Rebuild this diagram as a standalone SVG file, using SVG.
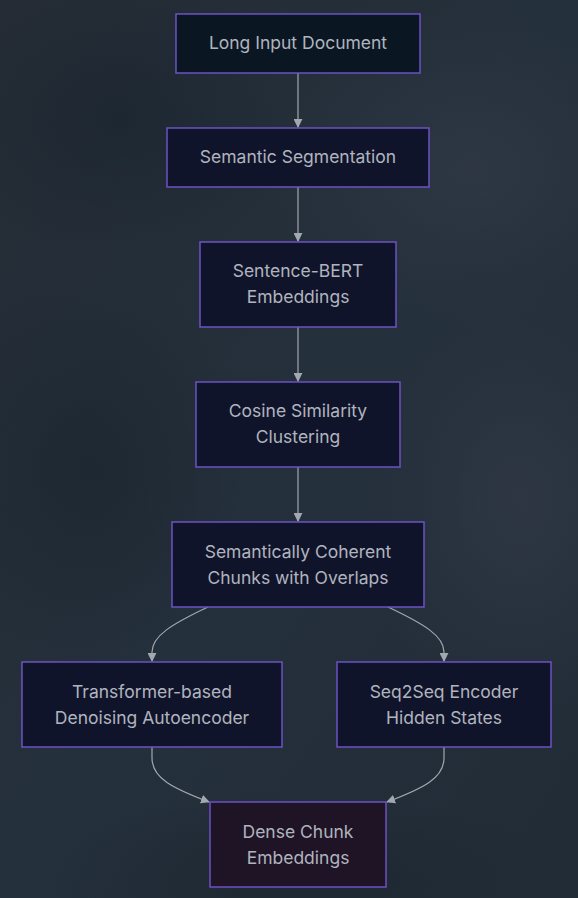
<svg xmlns="http://www.w3.org/2000/svg" width="578" height="898" viewBox="0 0 578 898">
<defs>
<linearGradient id="bg" x1="0" y1="0" x2="1" y2="1">
<stop offset="0" stop-color="#252c35"/>
<stop offset="0.5" stop-color="#24303c"/>
<stop offset="1" stop-color="#222c37"/>
</linearGradient>
<radialGradient id="b1" cx="0.5" cy="0.5" r="0.5">
<stop offset="0" stop-color="#2f3744" stop-opacity="0.9"/>
<stop offset="1" stop-color="#2f3744" stop-opacity="0"/>
</radialGradient>
<radialGradient id="b2" cx="0.5" cy="0.5" r="0.5">
<stop offset="0" stop-color="#1c2630" stop-opacity="0.8"/>
<stop offset="1" stop-color="#1c2630" stop-opacity="0"/>
</radialGradient>
<marker id="arr" viewBox="0 0 10 10" refX="9" refY="5" markerWidth="9" markerHeight="9" markerUnits="userSpaceOnUse" orient="auto">
<path d="M0,0 L10,5 L0,10 z" fill="#a3a7ae"/>
</marker>
<style>
.n{stroke:#6c52c4;stroke-width:1.5;fill:#10142b}
.t{font-family:Inter,"Noto Sans",sans-serif;font-size:17.5px;fill:#b0b4be;text-anchor:middle}
.e{fill:none;stroke:#a3a7ae;stroke-width:1.2}
</style>
</defs>
<rect width="578" height="898" fill="url(#bg)"/>
<ellipse cx="470" cy="170" rx="200" ry="160" fill="url(#b1)"/>
<ellipse cx="120" cy="120" rx="180" ry="140" fill="url(#b2)"/>
<ellipse cx="90" cy="470" rx="160" ry="200" fill="url(#b2)"/>
<ellipse cx="520" cy="500" rx="160" ry="220" fill="url(#b1)"/>
<ellipse cx="300" cy="880" rx="260" ry="90" fill="url(#b2)"/>
<g id="connectors">
<path class="e" d="M298,73 L298,127" marker-end="url(#arr)"/>
<path class="e" d="M298,187 L298,241" marker-end="url(#arr)"/>
<path class="e" d="M298,327 L298,381" marker-end="url(#arr)"/>
<path class="e" d="M298,467 L298,521" marker-end="url(#arr)"/>
<path class="e" d="M208,607 C172,624 152,636 152,652 L152,661" marker-end="url(#arr)"/>
<path class="e" d="M388,607 C424,624 444,636 444,652 L444,661" marker-end="url(#arr)"/>
<path class="e" d="M152,747 L152,758 C152,778 172,788 209,802" marker-end="url(#arr)"/>
<path class="e" d="M444,747 L444,758 C444,778 424,788 387,802" marker-end="url(#arr)"/>
</g>
<g id="n1"><rect class="n" x="176" y="14" width="244" height="59" style="fill:#0a1722"/><text class="t" x="298" y="49">Long Input Document</text></g>
<g id="n2"><rect class="n" x="167" y="128" width="262" height="59"/><text class="t" x="298" y="163">Semantic Segmentation</text></g>
<g id="n3"><rect class="n" x="200" y="242" width="196" height="85"/><text class="t" x="298" y="277">Sentence-BERT</text><text class="t" x="298" y="303">Embeddings</text></g>
<g id="n4"><rect class="n" x="196" y="382" width="204" height="85"/><text class="t" x="298" y="417">Cosine Similarity</text><text class="t" x="298" y="443">Clustering</text></g>
<g id="n5"><rect class="n" x="172" y="522" width="252" height="85"/><text class="t" x="298" y="558">Semantically Coherent</text><text class="t" x="298" y="584">Chunks with Overlaps</text></g>
<g id="n6"><rect class="n" x="22" y="662" width="260" height="85"/><text class="t" x="152" y="698">Transformer-based</text><text class="t" x="152" y="724">Denoising Autoencoder</text></g>
<g id="n7"><rect class="n" x="337" y="662" width="214" height="85"/><text class="t" x="444" y="698">Seq2Seq Encoder</text><text class="t" x="444" y="724">Hidden States</text></g>
<g id="n8"><rect class="n" x="210" y="802" width="176" height="85" style="fill:#1f1326"/><text class="t" x="298" y="838">Dense Chunk</text><text class="t" x="298" y="864">Embeddings</text></g>
</svg>
